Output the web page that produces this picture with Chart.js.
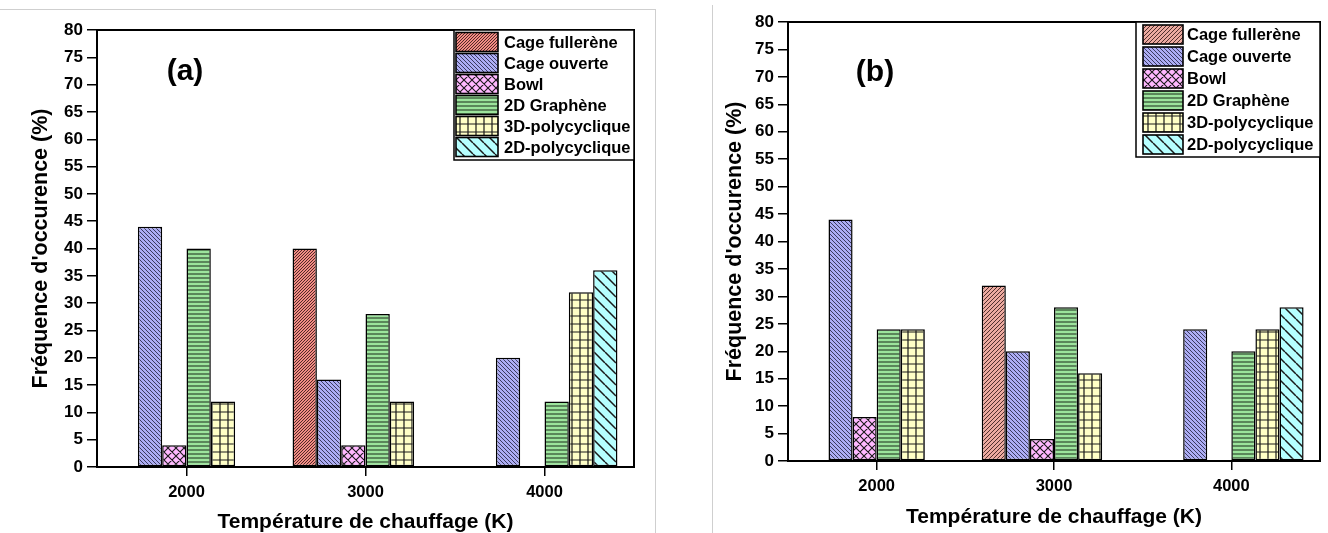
<!DOCTYPE html>
<html>
<head>
<meta charset="utf-8">
<script src="https://cdn.jsdelivr.net/npm/chart.js@4.4.1/dist/chart.umd.min.js"></script>
<style>
  html, body { margin: 0; padding: 0; background: #fff; }
  body { width: 1328px; height: 533px; position: relative; overflow: hidden; font-family: "Liberation Sans", Arial, sans-serif; }
  .wrap { position: absolute; top: 0; }
  #wa { left: 0; width: 655px; height: 533px; }
  #wb { left: 680px; width: 648px; height: 533px; }
  .gline { position: absolute; background: #cfcfcf; }
</style>
</head>
<body>
<div class="gline" style="left:0;top:9px;width:655px;height:1px;"></div>
<div class="gline" style="left:655px;top:9px;width:1px;height:524px;"></div>
<div class="gline" style="left:712px;top:5px;width:1px;height:528px;"></div>
<div class="wrap" id="wa"><canvas id="ca" width="655" height="533"></canvas></div>
<div class="wrap" id="wb"><canvas id="cb" width="648" height="533"></canvas></div>
<script>
// ---- data ----
const categories = ['2000', '3000', '4000'];
const seriesNames = ['Cage fullerène', 'Cage ouverte', 'Bowl', '2D Graphène', '3D-polycyclique', '2D-polycyclique'];

const a_fullerene = [0, 40, 0];
const a_ouverte   = [44, 16, 20];
const a_bowl      = [4, 4, 0];
const a_graphene  = [40, 28, 12];
const a_poly3d    = [12, 12, 32];
const a_poly2d    = [0, 0, 36];

const b_fullerene = [0, 32, 0];
const b_ouverte   = [44, 20, 24];
const b_bowl      = [8, 4, 0];
const b_graphene  = [24, 28, 20];
const b_poly3d    = [24, 16, 24];
const b_poly2d    = [0, 0, 28];

const yTicksMin = 0, yTicksMax = 80, yTicksStep = 5;
const xTitle = 'Température de chauffage (K)';
const yTitle = "Fréquence d'occurence (%)";

// ---- styles ----
const FONT = '"Liberation Sans", Arial, sans-serif';

function makePattern(ctx, bg, size, kinds, lw, fg) {
  const c = document.createElement('canvas');
  c.width = size; c.height = size;
  const x = c.getContext('2d');
  x.fillStyle = bg; x.fillRect(0, 0, size, size);
  x.strokeStyle = fg || '#1a1a1a'; x.lineWidth = lw;
  x.beginPath();
  kinds.forEach(k => {
    if (k === '/') { [-size, 0, size].forEach(o => { x.moveTo(o, size); x.lineTo(o + size, 0); }); }
    if (k === '\\') { [-size, 0, size].forEach(o => { x.moveTo(o, 0); x.lineTo(o + size, size); }); }
    if (k === '-') { x.moveTo(0, size / 2); x.lineTo(size, size / 2); }
    if (k === '|') { x.moveTo(size / 2, 0); x.lineTo(size / 2, size); }
  });
  x.stroke();
  return ctx.createPattern(c, 'repeat');
}

function patternsFor(ctx, fullBg, fullSize) {
  return [
    makePattern(ctx, fullBg, fullSize, ['/'], 0.8, '#2a1010'),
    makePattern(ctx, '#adadf4', 4, ['\\'], 0.8, '#20203a'),
    makePattern(ctx, '#ffb8ff', 8, ['/', '\\'], 1.1),
    makePattern(ctx, '#9ce49c', 4, ['-'], 1, '#1a2a1a'),
    makePattern(ctx, '#ffffc6', 8, ['-', '|'], 1.2),
    makePattern(ctx, '#b6ffff', 11, ['\\'], 1.5)
  ];
}

const framePlugin = {
  id: 'frame',
  afterDatasetsDraw(chart, args, opts) {
    const {ctx, chartArea: a} = chart;
    ctx.save();
    ctx.strokeStyle = '#000';
    ctx.lineWidth = 2;
    ctx.strokeRect(a.left, a.top, a.right - a.left, a.bottom - a.top);
    // legend box
    const L = opts.legend;
    const bx = a.right - L.w, by = a.top;
    ctx.fillStyle = '#fff';
    ctx.fillRect(bx, by, L.w, L.h);
    ctx.lineWidth = 1.5;
    ctx.strokeRect(bx, by, L.w, L.h);
    chart.data.datasets.forEach((ds, i) => {
      const py = by + L.first + i * L.row;
      ctx.fillStyle = ds.backgroundColor;
      ctx.fillRect(bx + L.px, py, L.pw, L.ph);
      ctx.lineWidth = 1.6;
      ctx.strokeStyle = '#000';
      ctx.strokeRect(bx + L.px, py, L.pw, L.ph);
      ctx.fillStyle = '#000';
      ctx.font = 'bold 16.5px ' + FONT;
      ctx.textBaseline = 'middle';
      ctx.textAlign = 'left';
      ctx.fillText(ds.label, bx + L.tx, py + L.ph / 2 + 1);
    });
    // panel label
    ctx.font = 'bold 30px ' + FONT;
    ctx.textAlign = 'center';
    ctx.textBaseline = 'middle';
    ctx.fillStyle = '#000';
    ctx.fillText(opts.tag, opts.tagX, opts.tagY);
    ctx.restore();
  }
};

function buildChart(id, series, cfg) {
  const canvas = document.getElementById(id);
  const ctx = canvas.getContext('2d');
  const pats = patternsFor(ctx, cfg.fullBg, cfg.fullSize);
  const datasets = series.map((vals, i) => ({
    label: seriesNames[i],
    data: vals,
    backgroundColor: pats[i],
    borderColor: '#000',
    borderWidth: c => (c.raw ? 1.5 : 0),
    borderSkipped: false,
    barPercentage: 1,
    categoryPercentage: 0.815
  }));
  return new Chart(ctx, {
    type: 'bar',
    data: { labels: categories, datasets },
    plugins: [framePlugin],
    options: {
      responsive: false,
      animation: false,
      events: [],
      layout: { padding: { top: cfg.top, right: cfg.right, left: 0, bottom: 0 } },
      plugins: {
        legend: { display: false },
        tooltip: { enabled: false },
        frame: { legend: cfg.legend, tag: cfg.tag, tagX: cfg.tagX, tagY: cfg.tagY }
      },
      scales: {
        x: {
          offset: true,
          afterFit: s => { s.height = cfg.xh; },
          border: { display: true, color: '#000', width: 2 },
          grid: { offset: false, drawOnChartArea: false, drawTicks: true, tickLength: 9, color: '#000', lineWidth: 1.5 },
          ticks: { color: '#000', padding: 7, font: { family: FONT, size: 16.5, weight: 'bold' } },
          title: { display: true, text: xTitle, color: '#000', font: { family: FONT, size: 21, weight: 'bold', lineHeight: 1 }, padding: { top: 0, bottom: cfg.xtpad } }
        },
        y: {
          min: yTicksMin, max: yTicksMax,
          afterFit: s => { s.width = cfg.yw; },
          border: { display: true, color: '#000', width: 2 },
          grid: { drawOnChartArea: false, drawTicks: true, tickLength: 10, color: '#000', lineWidth: 1.5 },
          ticks: { stepSize: yTicksStep, color: '#000', padding: 4, font: { family: FONT, size: 17, weight: 'bold' } },
          title: { display: true, text: yTitle, color: '#000', font: { family: FONT, size: 21.5, weight: 'bold', lineHeight: 1 }, padding: { top: cfg.ytpad, bottom: 0 } }
        }
      }
    }
  });
}

buildChart('ca', [a_fullerene, a_ouverte, a_bowl, a_graphene, a_poly3d, a_poly2d], {
  fullBg: '#f28c84', fullSize: 3,
  top: 30, right: 21, xh: 66, yw: 97, xtpad: 0, ytpad: 30,
  legend: { w: 180, h: 130, first: 2.5, row: 21, px: 2, pw: 42, ph: 19, tx: 50 },
  tag: '(a)', tagX: 185, tagY: 72
});

buildChart('cb', [b_fullerene, b_ouverte, b_bowl, b_graphene, b_poly3d, b_poly2d], {
  fullBg: '#ecaaa0', fullSize: 4,
  top: 22, right: 8, xh: 72, yw: 108, xtpad: 5.5, ytpad: 44,
  legend: { w: 184, h: 135, first: 3, row: 22, px: 7, pw: 40, ph: 19, tx: 51 },
  tag: '(b)', tagX: 195, tagY: 73
});
</script>
</body>
</html>
